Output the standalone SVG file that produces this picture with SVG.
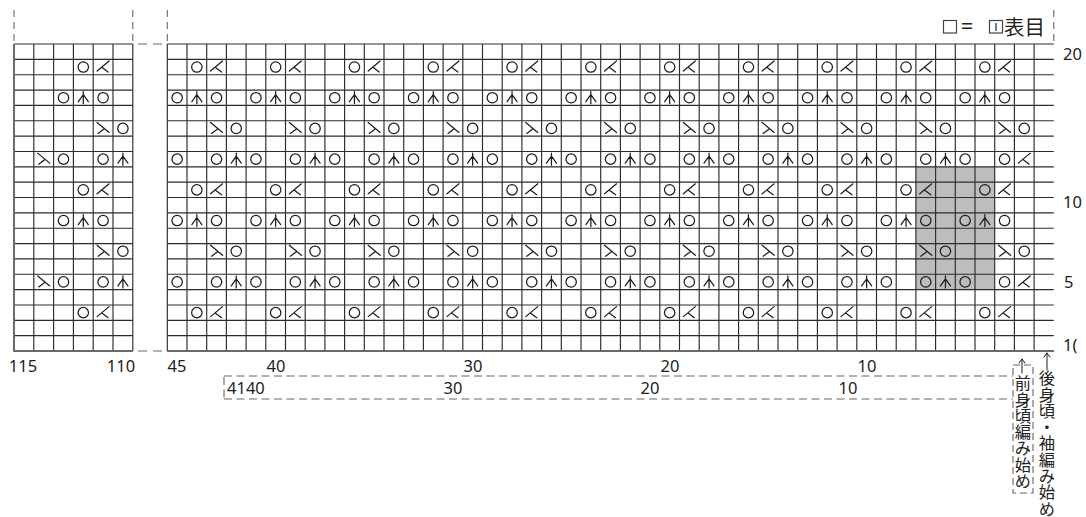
<svg xmlns="http://www.w3.org/2000/svg" width="1086" height="517" viewBox="0 0 1086 517">
<style>
.grid{fill:none;stroke:#2c2c2c;stroke-width:1.15}
.border{fill:none;stroke:#6a6a6a;stroke-width:1.8}
.sym{fill:none;stroke:#1e1e1e;stroke-width:1.25;stroke-linecap:round;stroke-linejoin:round}
.dash{fill:none;stroke:#666;stroke-width:1.1;stroke-dasharray:7 5}
.num{font-family:"Noto Sans","Open Sans",sans-serif;font-size:16.5px;fill:#222}
.jp{font-family:"Noto Sans CJK JP",sans-serif;fill:#222}
.vt{font-family:"Noto Sans CJK JP",sans-serif;font-size:16.3px;fill:#222;writing-mode:vertical-rl}
</style>
<defs>
<circle id="O" class="sym" r="5.2"/>
<path id="L" class="sym" d="M6,-6L-6,4M-1,0.5L5,5"/>
<path id="R" class="sym" d="M-6,-6L6,4M1,0.5L-5,5"/>
<path id="T" class="sym" d="M0,-6V6M-5,4L0,-3L5,4"/>
<g id="tA"><use href="#O" x="19.7"/><use href="#L" x="39.4"/></g>
<g id="tB"><use href="#O" x="0"/><use href="#T" x="19.7"/><use href="#O" x="39.4"/></g>
<g id="tC"><use href="#R" x="39.4"/><use href="#O" x="59.1"/></g>
<g id="tD"><use href="#O" x="0"/><use href="#O" x="39.4"/><use href="#T" x="59.1"/></g>
<g id="rowA"><use href="#tA" x="0"/><use href="#tA" x="78.8"/><use href="#tA" x="157.6"/><use href="#tA" x="236.4"/><use href="#tA" x="315.2"/><use href="#tA" x="394"/><use href="#tA" x="472.8"/><use href="#tA" x="551.6"/><use href="#tA" x="630.4"/><use href="#tA" x="709.2"/><use href="#tA" x="788"/></g>
<g id="rowB"><use href="#tB" x="0"/><use href="#tB" x="78.8"/><use href="#tB" x="157.6"/><use href="#tB" x="236.4"/><use href="#tB" x="315.2"/><use href="#tB" x="394"/><use href="#tB" x="472.8"/><use href="#tB" x="551.6"/><use href="#tB" x="630.4"/><use href="#tB" x="709.2"/><use href="#tB" x="788"/></g>
<g id="rowC"><use href="#tC" x="0"/><use href="#tC" x="78.8"/><use href="#tC" x="157.6"/><use href="#tC" x="236.4"/><use href="#tC" x="315.2"/><use href="#tC" x="394"/><use href="#tC" x="472.8"/><use href="#tC" x="551.6"/><use href="#tC" x="630.4"/><use href="#tC" x="709.2"/><use href="#tC" x="788"/></g>
<g id="rowD"><use href="#tD" x="0"/><use href="#tD" x="78.8"/><use href="#tD" x="157.6"/><use href="#tD" x="236.4"/><use href="#tD" x="315.2"/><use href="#tD" x="394"/><use href="#tD" x="472.8"/><use href="#tD" x="551.6"/><use href="#tD" x="630.4"/><use href="#tD" x="709.2"/><use href="#O" x="788"/><use href="#O" x="827.4"/><use href="#L" x="847.1"/></g>
<g id="lA"><use href="#O" x="59.4"/><use href="#L" x="79.2"/></g>
<g id="lB"><use href="#O" x="39.6"/><use href="#T" x="59.4"/><use href="#O" x="79.2"/></g>
<g id="lC"><use href="#R" x="79.2"/><use href="#O" x="99"/></g>
<g id="lD"><use href="#R" x="19.8"/><use href="#O" x="39.6"/><use href="#O" x="79.2"/><use href="#T" x="99"/></g>
</defs>
<rect width="1086" height="517" fill="#fff"/>

<g id="shade"><rect x="915.9" y="166.8" width="78.8" height="122.8" fill="#bdbdbd"/></g>

<g id="left-grid">
<path class="grid" d="M14,44v307m19.8,-307v307m19.8,-307v307m19.8,-307v307m19.8,-307v307m19.8,-307v307m19.8,-307v307"/>
<path class="grid" d="M14,44h118.8M14,59.35h118.8M14,74.7h118.8M14,90.05h118.8M14,105.4h118.8M14,120.75h118.8M14,136.1h118.8M14,151.45h118.8M14,166.8h118.8M14,182.15h118.8M14,197.5h118.8M14,212.85h118.8M14,228.2h118.8M14,243.55h118.8M14,258.9h118.8M14,274.25h118.8M14,289.6h118.8M14,304.95h118.8M14,320.3h118.8M14,335.65h118.8M14,351h118.8"/>
<path class="border" d="M14,44V351H132.8"/>
<g transform="translate(23.9,0)">
<use href="#lA" y="67.03"/><use href="#lB" y="97.73"/><use href="#lC" y="128.43"/><use href="#lD" y="159.13"/>
<use href="#lA" y="189.83"/><use href="#lB" y="220.53"/><use href="#lC" y="251.23"/><use href="#lD" y="281.93"/>
<use href="#lA" y="312.63"/>
</g>
</g>

<g id="main-grid">
<path class="grid" d="M167.3,44v307m19.7,-307v307m19.7,-307v307m19.7,-307v307m19.7,-307v307m19.7,-307v307m19.7,-307v307m19.7,-307v307m19.7,-307v307m19.7,-307v307m19.7,-307v307m19.7,-307v307m19.7,-307v307m19.7,-307v307m19.7,-307v307m19.7,-307v307m19.7,-307v307m19.7,-307v307m19.7,-307v307m19.7,-307v307m19.7,-307v307m19.7,-307v307m19.7,-307v307m19.7,-307v307m19.7,-307v307m19.7,-307v307m19.7,-307v307m19.7,-307v307m19.7,-307v307m19.7,-307v307m19.7,-307v307m19.7,-307v307m19.7,-307v307m19.7,-307v307m19.7,-307v307m19.7,-307v307m19.7,-307v307m19.7,-307v307m19.7,-307v307m19.7,-307v307m19.7,-307v307m19.7,-307v307m19.7,-307v307m19.7,-307v307m19.7,-307v307"/>
<path class="grid" d="M167.3,44h886.5M167.3,59.35h886.5M167.3,74.7h886.5M167.3,90.05h886.5M167.3,105.4h886.5M167.3,120.75h886.5M167.3,136.1h886.5M167.3,151.45h886.5M167.3,166.8h886.5M167.3,182.15h886.5M167.3,197.5h886.5M167.3,212.85h886.5M167.3,228.2h886.5M167.3,243.55h886.5M167.3,258.9h886.5M167.3,274.25h886.5M167.3,289.6h886.5M167.3,304.95h886.5M167.3,320.3h886.5M167.3,335.65h886.5M167.3,351h886.5"/>
<path class="border" d="M167.3,351H1053.8"/>
<g transform="translate(177.15,0)">
<use href="#rowA" y="67.03"/><use href="#rowB" y="97.73"/><use href="#rowC" y="128.43"/><use href="#rowD" y="159.13"/>
<use href="#rowA" y="189.83"/><use href="#rowB" y="220.53"/><use href="#rowC" y="251.23"/><use href="#rowD" y="281.93"/>
<use href="#rowA" y="312.63"/>
</g>
</g>

<g id="guides">
<path class="dash" d="M14,10V44M132.8,10V44M167.3,10V44M1053.8,10V44"/>
<path class="dash" d="M138,44H167.3M138,351H167.3" style="stroke-dasharray:9 6"/>
<path class="dash" d="M224,376H1013M224,399H1013M224,377V398" style="stroke-dasharray:8 4.5"/>
<rect class="dash" x="1013" y="365" width="20" height="128" style="stroke-dasharray:7 4"/>
<path class="sym" d="M1022,373V359M1019,363L1022,359L1025,363M1047,370V353M1044,357L1047,353L1050,357" style="stroke-width:1"/>
</g>

<g id="legend">
<rect x="943.5" y="20.5" width="13" height="12.5" fill="none" stroke="#444" stroke-width="1.2"/>
<text class="num" x="967" y="34" text-anchor="middle" style="font-size:22px">=</text>
<rect x="989.5" y="20.5" width="13" height="12.5" fill="none" stroke="#444" stroke-width="1.2"/>
<path d="M996,23V31" stroke="#333" stroke-width="1.3"/>
<text class="jp" x="1004" y="34.5" style="font-size:20.5px">表目</text>
</g>

<g id="labels">
<text class="num" x="23" y="372" text-anchor="middle">115</text>
<text class="num" x="121" y="372" text-anchor="middle">110</text>
<text class="num" x="177" y="372" text-anchor="middle">45</text>
<text class="num" x="276" y="372" text-anchor="middle">40</text>
<text class="num" x="473" y="372" text-anchor="middle">30</text>
<text class="num" x="670" y="372" text-anchor="middle">20</text>
<text class="num" x="867" y="372" text-anchor="middle">10</text>
<text class="num" x="227" y="394">4140</text>
<text class="num" x="453" y="394" text-anchor="middle">30</text>
<text class="num" x="650" y="394" text-anchor="middle">20</text>
<text class="num" x="848" y="394" text-anchor="middle">10</text>
<text class="num" x="1063" y="60">20</text>
<text class="num" x="1063" y="208">10</text>
<text class="num" x="1064" y="288">5</text>
<text class="num" x="1063" y="351">1(</text>
<text class="vt" x="1023" y="375">前身頃編み始め</text>
<text class="vt" x="1047" y="370">後身頃・袖編み始め</text>
</g>
</svg>
